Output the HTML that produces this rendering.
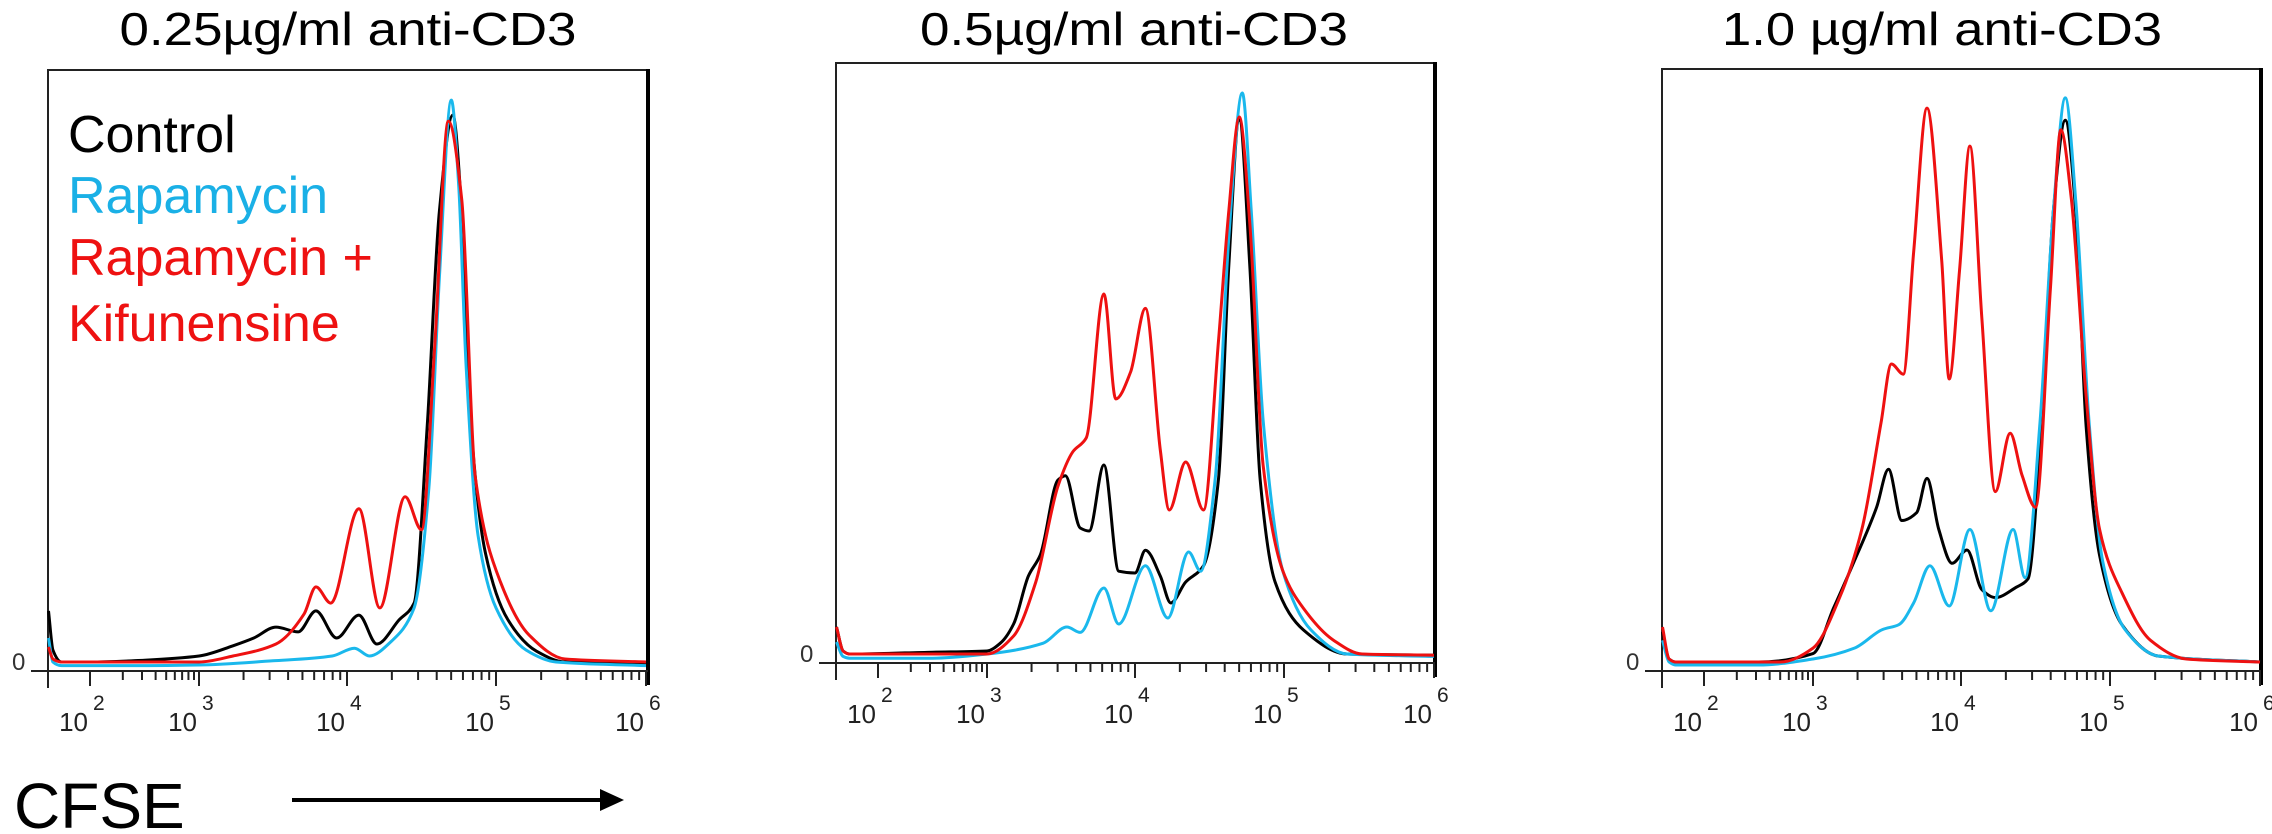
<!DOCTYPE html>
<html><head><meta charset="utf-8">
<style>
html,body{margin:0;padding:0;background:#fff;}
svg{display:block;}
text{font-family:"Liberation Sans",Arial,sans-serif;}
</style></head>
<body>
<svg id="fig" width="2272" height="834" viewBox="0 0 2272 834" xmlns="http://www.w3.org/2000/svg">
  <text x="348" y="45" font-size="46" text-anchor="middle" textLength="457" lengthAdjust="spacingAndGlyphs">0.25µg/ml anti-CD3</text>
  <text x="1134" y="45" font-size="46" text-anchor="middle" textLength="428" lengthAdjust="spacingAndGlyphs">0.5µg/ml anti-CD3</text>
  <text x="1942" y="45" font-size="46" text-anchor="middle" textLength="440" lengthAdjust="spacingAndGlyphs">1.0 µg/ml anti-CD3</text>
  <g>
    <text x="68" y="152" font-size="52" fill="#000">Control</text>
    <text x="68" y="213" font-size="52" fill="#1ab0e6">Rapamycin</text>
    <text x="68" y="275" font-size="52" fill="#ee1111">Rapamycin +</text>
    <text x="68" y="341" font-size="52" fill="#ee1111">Kifunensine</text>
  </g>
  <text x="14" y="828" font-size="64">CFSE</text>
  <g>
    <line x1="292" y1="800" x2="605" y2="800" stroke="#000" stroke-width="4"/>
    <polygon points="600,789 624,800 600,811" fill="#000"/>
  </g>
</svg>
<script>
// Shared axis: decade knots (log10 of CFSE) and tick labels
const tickDecades = [2, 3, 4, 5, 6];
const tickExponents = ["2", "3", "4", "5", "6"];
const seriesNames = ["Control", "Rapamycin", "Rapamycin + Kifunensine"];

// Panel 1 (0.25 µg/ml) : [decade, % of max]
const p1Control = [[1.62,9.5],[1.66,3],[1.74,1],[2,1],[2.5,1.3],[3,2],[3.23,3.7],[3.37,5],[3.52,6.8],[3.67,6],[3.79,9.5],[3.93,5],[4.08,8.8],[4.2,4],[4.35,8],[4.45,10.8],[4.54,41],[4.62,76],[4.71,92],[4.77,76],[4.83,41],[4.93,19],[5.08,8],[5.27,2.8],[5.46,1],[6,0.8]];
const p1Rapa = [[1.62,5],[1.66,1],[1.74,0.4],[2.5,0.4],[3,0.5],[3.5,1.2],[3.9,2],[4.05,3.3],[4.15,2],[4.3,4.5],[4.45,10],[4.55,30],[4.62,65],[4.7,94.5],[4.75,80],[4.8,50],[4.88,22],[5,10],[5.2,3],[5.4,1],[6,0.4]];
const p1RapaKif = [[1.62,3.5],[1.66,1.5],[1.74,1],[2,1],[3,1],[3.23,2],[3.52,4],[3.71,9],[3.79,13.5],[3.89,10.8],[4.08,26.5],[4.22,10],[4.39,28.5],[4.5,23],[4.59,54],[4.68,91],[4.77,78],[4.86,32],[5.03,14.3],[5.22,5.5],[5.46,1.5],[6,1]];

// Panel 2 (0.5 µg/ml)
const p2Control = [[1.62,5.5],[1.68,1.5],[1.74,1],[2.5,1.3],[3,1.5],[3.09,2.8],[3.18,6],[3.28,14],[3.36,17.5],[3.48,30],[3.53,30.7],[3.63,22],[3.69,21.5],[3.79,32.5],[3.89,14.8],[4,14.5],[4.07,18.3],[4.17,14],[4.24,9.5],[4.34,13],[4.46,15.7],[4.56,30],[4.63,66],[4.7,90],[4.77,66],[4.84,30],[4.94,13],[5.13,5],[5.42,1],[6,0.8]];
const p2Rapa = [[1.62,3],[1.68,0.6],[1.74,0.3],[2.5,0.3],[3,1],[3.38,2.8],[3.54,5.5],[3.63,4.6],[3.79,12],[3.89,6],[4.07,15.7],[4.22,7],[4.36,18],[4.44,14.8],[4.54,30.7],[4.63,70.6],[4.72,94.5],[4.78,75],[4.86,40],[4.99,15],[5.18,5],[5.42,1],[6,0.6]];
const p2RapaKif = [[1.62,5.5],[1.68,1.5],[1.74,1],[2.5,1],[3,1],[3.18,4],[3.33,13],[3.48,29],[3.58,34.7],[3.67,37],[3.79,61],[3.87,43.5],[3.97,48],[4.07,58.6],[4.17,35],[4.23,25],[4.34,33],[4.46,25],[4.56,53],[4.63,75],[4.7,90.5],[4.77,73],[4.86,32.5],[4.99,15],[5.13,8.6],[5.33,3.3],[5.52,1],[6,0.8]];

// Panel 3 (1.0 µg/ml)
const p3Control = [[1.62,6],[1.68,1.5],[1.74,1],[2.5,1],[3,2.4],[3.14,10],[3.28,17.8],[3.43,26.7],[3.51,33],[3.6,24.5],[3.7,25.8],[3.77,31.5],[3.85,23],[3.94,17.4],[4.04,19.6],[4.14,13],[4.23,11.7],[4.37,13.4],[4.45,14.8],[4.54,40.8],[4.62,76],[4.7,91],[4.77,76],[4.84,40],[4.93,18.7],[5.08,7.2],[5.32,2],[6,1]];
const p3Rapa = [[1.62,4.6],[1.68,1],[1.74,0.5],[2.5,0.5],[3,1.5],[3.28,3.3],[3.47,6.4],[3.58,7.2],[3.68,10.8],[3.79,17],[3.92,10.3],[4.06,23],[4.2,9.5],[4.35,23],[4.43,15],[4.53,40.8],[4.62,76],[4.7,94.7],[4.77,77.7],[4.86,40.8],[4.95,17.8],[5.1,6.4],[5.32,2],[6,1]];
const p3RapaKif = [[1.62,6.8],[1.68,1.5],[1.74,1],[2.7,1],[3,3.3],[3.18,11.7],[3.33,23],[3.46,40.8],[3.53,50.5],[3.61,48.8],[3.68,69],[3.77,93],[3.87,67.5],[3.92,48],[3.99,66],[4.06,86.7],[4.14,58],[4.23,29.3],[4.33,39],[4.41,32],[4.5,26.7],[4.6,63],[4.67,89.4],[4.74,78],[4.84,45],[4.93,23],[5.08,12.5],[5.27,4.6],[5.51,1.5],[6,1]];

const NS = "http://www.w3.org/2000/svg";
const svg = document.getElementById("fig");
const knotDec = [1.615, 2, 3, 4, 5, 6];
const knotPx = [0, 42, 151, 299, 448, 598];
function xScale(panel, d) {
  for (let i = 0; i < knotDec.length - 1; i++) {
    if (d <= knotDec[i + 1] || i === knotDec.length - 2) {
      const t = (d - knotDec[i]) / (knotDec[i + 1] - knotDec[i]);
      return panel.left + knotPx[i] + t * (knotPx[i + 1] - knotPx[i]);
    }
  }
}
function yScale(panel, v) { return panel.axis - 3 - v / 100 * (panel.axis - panel.top); }
function mk(tag, attrs) { const e = document.createElementNS(NS, tag); for (const k in attrs) e.setAttribute(k, attrs[k]); return e; }

// monotone cubic path through screen points
function monotonePath(pts) {
  const n = pts.length;
  const dx = [], m = [], t = new Array(n);
  for (let i = 0; i < n - 1; i++) { dx[i] = pts[i + 1][0] - pts[i][0]; m[i] = (pts[i + 1][1] - pts[i][1]) / dx[i]; }
  t[0] = m[0]; t[n - 1] = m[n - 2];
  for (let i = 1; i < n - 1; i++) {
    if (m[i - 1] * m[i] <= 0) t[i] = 0;
    else { const w1 = 2 * dx[i] + dx[i - 1], w2 = dx[i] + 2 * dx[i - 1]; t[i] = (w1 + w2) / (w1 / m[i - 1] + w2 / m[i]); }
  }
  let d = `M${pts[0][0].toFixed(1)},${pts[0][1].toFixed(1)}`;
  for (let i = 0; i < n - 1; i++) {
    const h = dx[i] / 3;
    d += ` C${(pts[i][0] + h).toFixed(1)},${(pts[i][1] + t[i] * h).toFixed(1)} ${(pts[i + 1][0] - h).toFixed(1)},${(pts[i + 1][1] - t[i + 1] * h).toFixed(1)} ${pts[i + 1][0].toFixed(1)},${pts[i + 1][1].toFixed(1)}`;
  }
  return d;
}

const panels = [
  { left: 48, top: 70, axis: 671, right: 648, series: [p1Control, p1Rapa, p1RapaKif] },
  { left: 836, top: 63, axis: 663, right: 1435, series: [p2Control, p2Rapa, p2RapaKif] },
  { left: 1662, top: 69, axis: 671, right: 2261, series: [p3Control, p3Rapa, p3RapaKif] }
];
const colors = ["#000000", "#1ab8ec", "#ee1111"];

panels.forEach((p, pi) => {
  const g = mk("g", {});
  
  
  svg.appendChild(g);
  const frame = mk("path", { d: `M${p.left},${p.axis + 17} L${p.left},${p.top} L${p.right},${p.top}`, fill: "none", stroke: "#222", "stroke-width": 2 });
  
  
  g.appendChild(frame);
  const rb = mk("line", { x1: p.right, y1: p.top - 1, x2: p.right, y2: p.axis + 14, stroke: "#000", "stroke-width": 4 });
  
  
  g.appendChild(rb);
  const ax = mk("line", { x1: p.left - 17, y1: p.axis, x2: p.right, y2: p.axis, stroke: "#222", "stroke-width": 2 });
  
  
  g.appendChild(ax);
  const zero = mk("text", { x: p.left - 36, y: p.axis - 1, "font-size": 24, fill: "#333" });
  zero.textContent = "0";
  
  
  g.appendChild(zero);
  for (let k = 2; k < 6; k++) {
    for (let mm = 2; mm <= 9; mm++) {
      const x = xScale(p, k + Math.log10(mm));
      const t = mk("line", { x1: x, y1: p.axis, x2: x, y2: p.axis + 9, stroke: "#222", "stroke-width": 2 });
      
      
      g.appendChild(t);
    }
  }
  tickDecades.forEach((d, i) => {
    const x = xScale(p, d);
    const t = mk("line", { x1: x, y1: p.axis, x2: x, y2: p.axis + 15, stroke: "#222", "stroke-width": 2 });
    
    
    g.appendChild(t);
    const base = mk("text", { x: x - 2, y: p.axis + 60, "font-size": 26, fill: "#222", "text-anchor": "end" });
    base.textContent = "10";
    
    
    g.appendChild(base);
    const ex = mk("text", { x: x + 3, y: p.axis + 39, "font-size": 21, fill: "#222" });
    ex.textContent = tickExponents[i];
    
    
    g.appendChild(ex);
  });
  p.series.forEach((s, si) => {
    const pts = s.map(q => [xScale(p, q[0]), yScale(p, q[1])]);
    const pl = mk("path", { d: monotonePath(pts), fill: "none", stroke: colors[si], "stroke-width": 3, "stroke-linejoin": "round" });
    
    
    g.appendChild(pl);
  });
});
</script>
</body></html>
